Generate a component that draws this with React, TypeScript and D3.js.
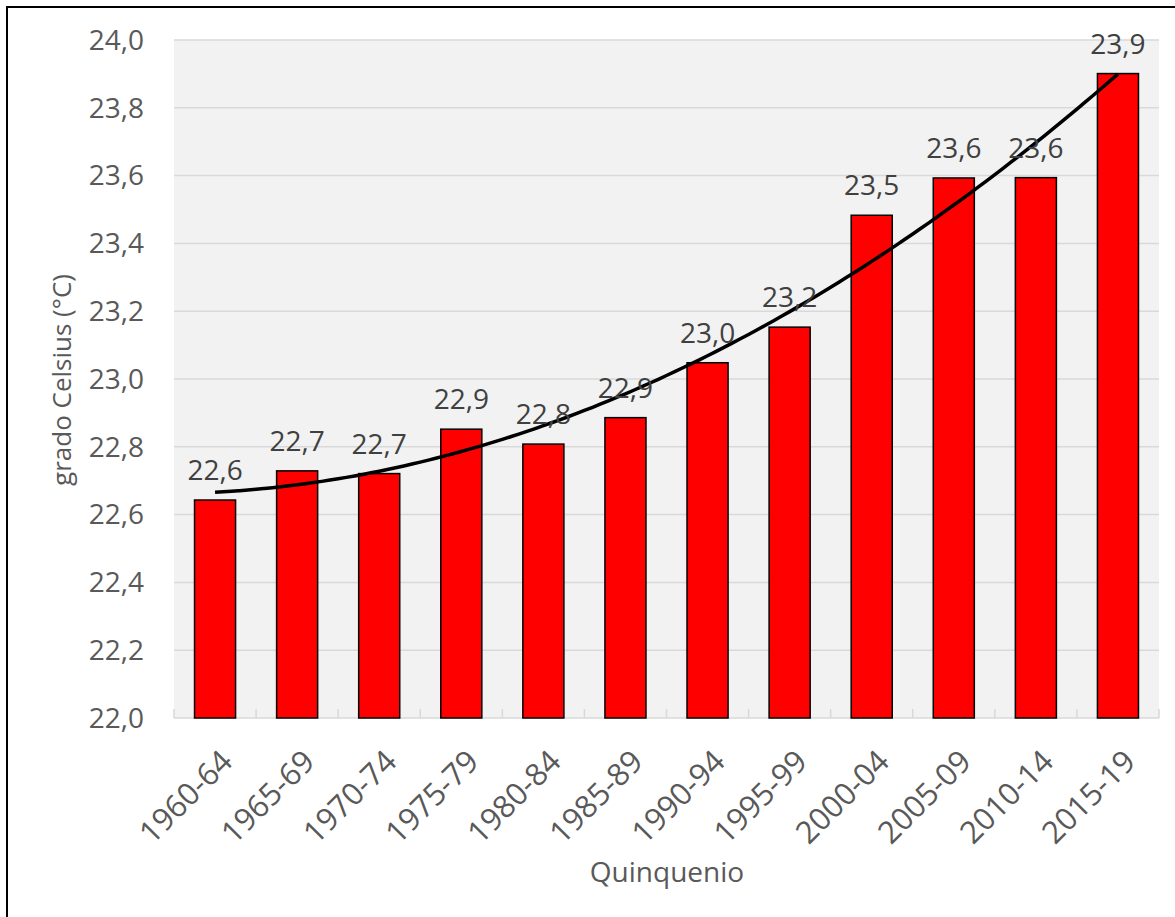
import React from "react";
import * as d3 from "d3";

const categories = ["1960-64","1965-69","1970-74","1975-79","1980-84","1985-89","1990-94","1995-99","2000-04","2005-09","2010-14","2015-19"];
const temps = [22.643,22.729,22.721,22.852,22.808,22.886,23.048,23.153,23.483,23.593,23.594,23.901];
const yTicks = [22.0,22.2,22.4,22.6,22.8,23.0,23.2,23.4,23.6,23.8,24.0];

const W = 1175, H = 917;
const left = 174, right = 1159, top = 40, bottom = 718;

function quadFit(ys: number[]) {
  // least squares fit y = a + b x + c x^2, x = 1..n
  let S = [0,0,0,0,0], T = [0,0,0];
  ys.forEach((y, i) => {
    const x = i + 1;
    for (let k = 0; k < 5; k++) S[k] += Math.pow(x, k);
    for (let k = 0; k < 3; k++) T[k] += y * Math.pow(x, k);
  });
  const M = [[S[0],S[1],S[2],T[0]],[S[1],S[2],S[3],T[1]],[S[2],S[3],S[4],T[2]]];
  for (let i = 0; i < 3; i++) {
    for (let j = i + 1; j < 3; j++) {
      const f = M[j][i] / M[i][i];
      for (let k = i; k < 4; k++) M[j][k] -= f * M[i][k];
    }
  }
  const c = [0,0,0];
  for (let i = 2; i >= 0; i--) {
    let s = M[i][3];
    for (let k = i + 1; k < 3; k++) s -= M[i][k] * c[k];
    c[i] = s / M[i][i];
  }
  return (x: number) => c[0] + c[1] * x + c[2] * x * x;
}

export default function App() {
  const x = d3.scaleBand<string>().domain(categories).range([left, right]).paddingInner(0.5).paddingOuter(0.25);
  const y = d3.scaleLinear().domain([22, 24]).range([bottom, top]);
  const step = x.step();
  const fit = quadFit(temps);
  const trendPts: [number, number][] = d3.range(1, 12.001, 0.1).map(t => [left + step * (t - 0.5), y(fit(t))]);
  const line = d3.line().curve(d3.curveMonotoneX);
  const fmt = (v: number) => v.toFixed(1).replace(".", ",");
  const font = "'Open Sans', sans-serif";
  return (
    <svg width={W} height={H} style={{ position: "absolute", left: 0, top: 0, background: "#fff" }}>
      <rect x={7} y={7} width={W} height={H} fill="#fff" stroke="#000" strokeWidth={2} />
      <rect x={left} y={top} width={right - left} height={bottom - top} fill="#f2f2f2" />
      {yTicks.map(t => (
        <g key={t}>
          {t > 22 && <line x1={left} x2={right} y1={y(t)} y2={y(t)} stroke="#d9d9d9" strokeWidth={1.5} />}
          <text x={144} y={y(t)} dy="0.35em" textAnchor="end" fontFamily={font} fontSize={28} fill="#595959">{fmt(t)}</text>
        </g>
      ))}
      <line x1={left} x2={right} y1={bottom} y2={bottom} stroke="#d9d9d9" strokeWidth={1.5} />
      {d3.range(categories.length + 1).map(i => (
        <line key={i} x1={left + i * step} x2={left + i * step} y1={bottom} y2={bottom - 9} stroke="#d9d9d9" strokeWidth={1.5} />
      ))}
      {categories.map((c, i) => (
        <rect key={c} x={x(c)!} y={y(temps[i])} width={x.bandwidth()} height={bottom - y(temps[i])} fill="#ff0000" stroke="#000" strokeWidth={1.5} />
      ))}
      <path d={line(trendPts)!} fill="none" stroke="#000" strokeWidth={3.5} />
      {categories.map((c, i) => (
        <text key={c} x={x(c)! + x.bandwidth() / 2} y={y(temps[i]) - 20} textAnchor="middle" fontFamily={font} fontSize={28} fill="#404040">{fmt(temps[i])}</text>
      ))}
      {categories.map((c) => {
        const cx = x(c)! + x.bandwidth() / 2 + 4;
        const cy = bottom + 30;
        return (
          <text key={c} transform={`translate(${cx},${cy}) rotate(-45)`} textAnchor="end" dy="0.7em" fontFamily={font} fontSize={31} fill="#595959">{c}</text>
        );
      })}
      <text transform={`translate(62,380) rotate(-90)`} textAnchor="middle" dy="0.35em" fontFamily={font} fontSize={26} fill="#595959">grado Celsius (°C)</text>
      <text x={667} y={872} textAnchor="middle" dy="0.35em" fontFamily={font} fontSize={28} fill="#595959">Quinquenio</text>
    </svg>
  );
}
